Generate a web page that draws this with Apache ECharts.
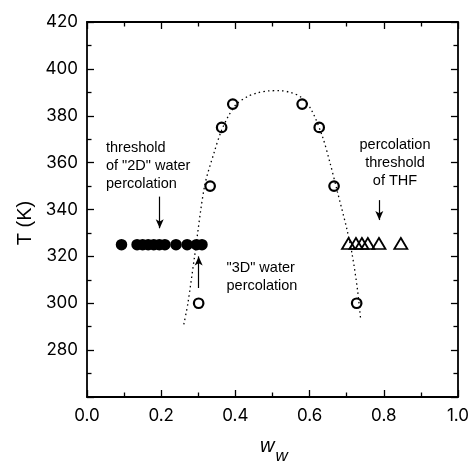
<!DOCTYPE html>
<html><head><meta charset="utf-8">
<script src="https://cdn.jsdelivr.net/npm/echarts@6/dist/echarts.min.js"></script>
<style>html,body{margin:0;padding:0;background:#fff}#c{width:472px;height:462px}</style>
</head><body><div id="c"></div>
<script>
// Data
const openW = [0.301, 0.332, 0.363, 0.393, 0.580, 0.626, 0.666, 0.727];
const openT = [300, 350, 375, 385, 385, 375, 350, 300];
const filledW = [0.093, 0.135, 0.150, 0.165, 0.180, 0.195, 0.210, 0.240, 0.270, 0.295, 0.310];
const filledT = [325, 325, 325, 325, 325, 325, 325, 325, 325, 325, 325];
const triW = [0.705, 0.725, 0.741, 0.757, 0.787, 0.846];
const triT = [325.5, 325.5, 325.5, 325.5, 325.5, 325.5];
const curveW = [0.261, 0.272, 0.290, 0.317, 0.344, 0.362, 0.380, 0.403, 0.433, 0.460, 0.490, 0.519, 0.550, 0.578, 0.605, 0.635, 0.655, 0.675, 0.700, 0.715, 0.729, 0.738];
const curveT = [291, 300, 320, 350, 365, 373.5, 379.5, 385, 388.2, 389.8, 390.6, 390.7, 389.9, 387.8, 382.5, 371, 360, 347.6, 332, 320.7, 306, 292.7];
const xTicks = [0.0, 0.2, 0.4, 0.6, 0.8, 1.0];
const yTicks = [280, 300, 320, 340, 360, 380, 400, 420];
// arrows: [w, T start, T end]
const arrowW = [0.196, 0.301, 0.788];
const arrowFromT = [345.5, 306.5, 344];
const arrowToT = [332, 320, 335.5];

const zip = (a, b) => a.map((v, i) => [v, b[i]]);
const tickFont = 'Inter, "DejaVu Sans", sans-serif';
const txtFont = '"Liberation Sans", Arial, sans-serif';

const chart = echarts.init(document.getElementById('c'), null, {renderer: 'canvas'});
const axisCommon = {
  axisLine: {show: true, onZero: false, lineStyle: {color: '#000', width: 1.8}},
  axisTick: {show: true, inside: true, length: 7, lineStyle: {color: '#000', width: 1.3}},
  minorTick: {show: true, splitNumber: 2, length: 4.5, lineStyle: {color: '#000', width: 1.3}},
  splitLine: {show: false},
  minorSplitLine: {show: false}
};
chart.setOption({
  animation: false,
  backgroundColor: '#fff',
  grid: {left: 87, right: 13, top: 22, bottom: 65},
  xAxis: [
    Object.assign({}, axisCommon, {
      type: 'value', min: 0, max: 1, interval: 0.2, position: 'bottom',
      axisLabel: {show: true, margin: 10, color: '#000', fontSize: 17, fontFamily: tickFont,
        formatter: v => xTicks.includes(Math.round(v*10)/10) ? v.toFixed(1) : ''}
    }),
    Object.assign({}, axisCommon, {
      type: 'value', min: 0, max: 1, interval: 0.2, position: 'top',
      axisLabel: {show: false}
    })
  ],
  yAxis: [
    Object.assign({}, axisCommon, {
      type: 'value', min: 260, max: 420, interval: 20, position: 'left',
      axisLabel: {show: true, margin: 9, color: '#000', fontSize: 17, fontFamily: tickFont,
        formatter: v => yTicks.includes(v) ? String(v) : ''}
    }),
    Object.assign({}, axisCommon, {
      type: 'value', min: 260, max: 420, interval: 20, position: 'right',
      axisLabel: {show: false}
    })
  ],
  series: [
    {
      type: 'line', data: zip(curveW, curveT), smooth: 0.3, symbol: 'none', silent: true,
      lineStyle: {color: '#000', width: 1.3, type: [1.5, 3.2]},
      markLine: {
        silent: true, symbol: ['none', 'arrow'], symbolSize: [6, 9],
        label: {show: false},
        lineStyle: {color: '#000', width: 1.2, type: 'solid', opacity: 1},
        emphasis: {disabled: true},
        data: arrowW.map((w, i) => [{coord: [w, arrowFromT[i]]}, {coord: [w, arrowToT[i]]}])
      }
    },
    {
      type: 'scatter', data: zip(filledW, filledT), symbol: 'circle', symbolSize: 11.5,
      itemStyle: {color: '#000', opacity: 1}, silent: true
    },
    {
      type: 'scatter', data: zip(openW, openT), symbol: 'circle', symbolSize: 9.5,
      itemStyle: {color: '#fff', borderColor: '#000', borderWidth: 2.2, opacity: 1}, silent: true
    },
    {
      type: 'scatter', data: zip(triW, triT), symbol: 'triangle', symbolSize: [13, 11],
      itemStyle: {color: 'rgba(255,255,255,0)', borderColor: '#000', borderWidth: 1.8, opacity: 1}, silent: true
    }
  ],
  graphic: [
    {type: 'text', x: 106, y: 139, silent: true,
      style: {text: 'threshold\nof "2D" water\npercolation', font: '14.5px ' + txtFont, fill: '#000',
        lineHeight: 18, align: 'left', verticalAlign: 'top'}},
    {type: 'text', x: 226.5, y: 258.5, silent: true,
      style: {text: '"3D" water\npercolation', font: '14.5px ' + txtFont, fill: '#000',
        lineHeight: 18, align: 'left', verticalAlign: 'top'}},
    {type: 'text', x: 395, y: 136, silent: true,
      style: {text: 'percolation\nthreshold\nof THF', font: '14.5px ' + txtFont, fill: '#000',
        lineHeight: 18, align: 'center', verticalAlign: 'top'}},
    {type: 'text', x: 25, y: 223, rotation: Math.PI / 2, silent: true,
      style: {text: 'T (K)', font: '20px ' + txtFont, fill: '#000', align: 'center', verticalAlign: 'middle'}},
    {type: 'text', x: 260, y: 446.5, silent: true,
      style: {text: 'w', font: 'italic 20px ' + txtFont, fill: '#000', align: 'left', verticalAlign: 'middle'}},
    {type: 'text', x: 275.5, y: 456, silent: true,
      style: {text: 'w', font: 'italic 17px ' + txtFont, fill: '#000', align: 'left', verticalAlign: 'middle'}}
  ]
});
</script></body></html>
